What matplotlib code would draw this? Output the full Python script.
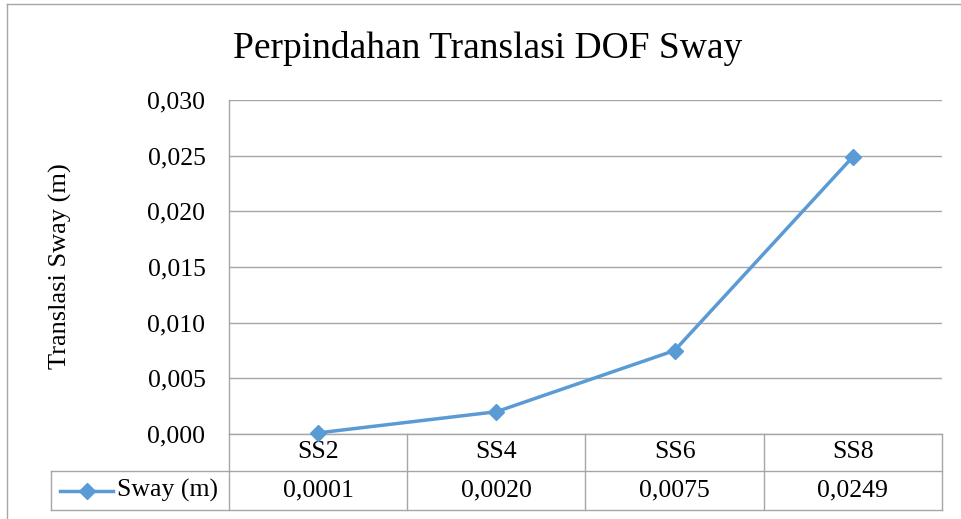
import matplotlib
matplotlib.use("Agg")
import matplotlib.pyplot as plt
from matplotlib.lines import Line2D
from matplotlib.transforms import blended_transform_factory

categories = ["SS2", "SS4", "SS6", "SS8"]
sway = [0.0001, 0.0020, 0.0075, 0.0249]
value_labels = ["0,0001", "0,0020", "0,0075", "0,0249"]
yticks = [0.000, 0.005, 0.010, 0.015, 0.020, 0.025, 0.030]
ytick_labels = ["0,000", "0,005", "0,010", "0,015", "0,020", "0,025", "0,030"]
series_name = "Sway (m)"
title = "Perpindahan Translasi DOF Sway"
ylabel = "Translasi Sway (m)"

plt.rcParams['font.family'] = ['Liberation Serif', 'DejaVu Serif']

W, H = 962, 519
fig = plt.figure(figsize=(W / 100, H / 100), dpi=100)
L, R, T, B = 229, 942, 100, 434
ax = fig.add_axes([L / W, 1 - B / H, (R - L) / W, (B - T) / H])

color = "#5B9BD5"
grid_c = "#A6A6A6"
x = list(range(len(categories)))
ax.plot(x, sway, color=color, lw=2.5, marker="D", ms=8, zorder=5, clip_on=False)

ax.set_xlim(-0.5, len(categories) - 0.5)
ax.set_ylim(0, 0.030)
ax.set_yticks(yticks)
ax.set_yticklabels(ytick_labels, fontsize=18.5)
ax.set_xticks([])
ax.tick_params(axis="y", length=0, pad=17)
ax.yaxis.grid(True, color=grid_c, lw=1)
ax.set_axisbelow(True)
for s in ["top", "right", "bottom"]:
    ax.spines[s].set_visible(False)
ax.spines["left"].set_color(grid_c)
ax.spines["left"].set_linewidth(1)

fig.text(488 / W, 1 - 48 / H, title, fontsize=27, ha="center", va="center")
fig.text(60 / W, 1 - 266 / H, ylabel, fontsize=19, rotation=90, ha="center", va="center")

# data table
tr = blended_transform_factory(ax.transData, ax.transAxes)
h = B - T
y0 = 0.0
y1 = -(471 - B) / h
y2 = -(510 - B) / h
n = len(categories)
lk = dict(color=grid_c, lw=1, transform=tr, clip_on=False)
ax.add_line(Line2D([-0.5, n - 0.5], [y0, y0], **lk))
ax.add_line(Line2D([-1.5, n - 0.5], [y1, y1], **lk))
ax.add_line(Line2D([-1.5, n - 0.5], [y2, y2], **lk))
for i in range(n + 1):
    ax.add_line(Line2D([i - 0.5, i - 0.5], [y0, y2], **lk))
ax.add_line(Line2D([-1.5, -1.5], [y1, y2], **lk))
for i, c in enumerate(categories):
    ax.text(i, (y0 + y1) / 2, c, transform=tr, ha="center", va="center", fontsize=18.5)
    ax.text(i, (y1 + y2) / 2, value_labels[i], transform=tr, ha="center", va="center", fontsize=18.5)
# legend key in table
px = 1 / 178.25
ym = (y1 + y2) / 2
ax.add_line(Line2D([-0.5 - (229 - 60) * px, -0.5 - (229 - 113) * px], [ym, ym], color=color, lw=2.5,
                   transform=tr, clip_on=False))
ax.add_line(Line2D([-0.5 - (229 - 87) * px], [ym], color=color, marker="D", ms=8,
                   transform=tr, clip_on=False))
ax.text(-0.5 - (229 - 117) * px, ym, series_name, transform=tr, ha="left", va="center", fontsize=18.5)

# outer chart border (left and top)
fig.add_artist(Line2D([7 / W, 7 / W], [0, 1 - 4 / H], color=grid_c, lw=1, transform=fig.transFigure))
fig.add_artist(Line2D([7 / W, 1], [1 - 4 / H, 1 - 4 / H], color=grid_c, lw=1, transform=fig.transFigure))

fig.savefig("out.png", dpi=100)
